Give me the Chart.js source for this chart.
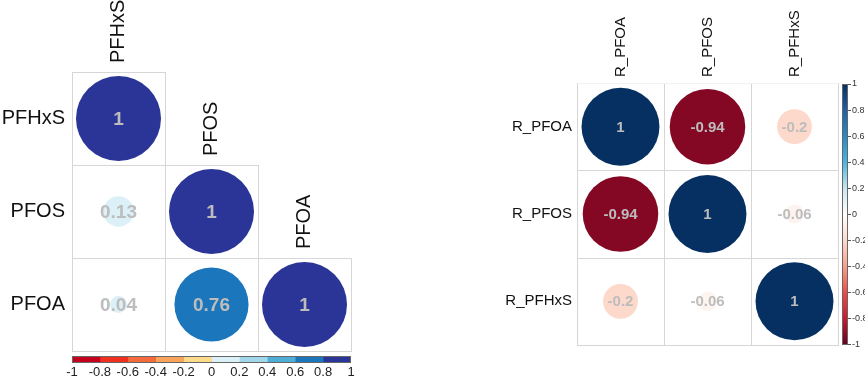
<!DOCTYPE html>
<html>
<head>
<meta charset="utf-8">
<script src="https://cdn.jsdelivr.net/npm/chart.js@4.4.0/dist/chart.umd.min.js"></script>
<style>
  html, body { margin: 0; padding: 0; background: #fff; overflow: hidden; }
  #wrap { position: relative; width: 865px; height: 378px; overflow: hidden; }
  canvas { position: absolute; }
</style>
</head>
<body>
<div id="wrap">
  <canvas id="leftMatrix" width="440" height="378" style="left:0;top:0"></canvas>
  <canvas id="leftBar" width="303" height="27" style="left:60px;top:354px"></canvas>
  <canvas id="rightMatrix" width="425" height="378" style="left:440px;top:0"></canvas>
  <canvas id="rightBar" width="29" height="275" style="left:836px;top:76px"></canvas>
</div>
<script>
// left panel: lower triangle
const leftNames = ['PFHxS', 'PFOS', 'PFOA'];
const leftRows = [
    [1],
    [0.13, 1],
    [0.04, 0.76, 1]
];

// right panel: full matrix
const rightNames = ['R_PFOA', 'R_PFOS', 'R_PFHxS'];
const rightRows = [
    [1, -0.94, -0.2],
    [-0.94, 1, -0.06],
    [-0.2, -0.06, 1]
];

// colour bar ticks and colours
const barTicks = [-1, -0.8, -0.6, -0.4, -0.2, 0, 0.2, 0.4, 0.6, 0.8, 1];
const stepColors = ['#C5001D', '#F0301E', '#F46A3C', '#F9A45A', '#FCDC8A',
                    '#DCF1F7', '#A0D8EA', '#4EAED6', '#1B76BB', '#2B3597'];
const rampColors = ['#67001F', '#C81A30', '#EC4D47', '#F7A08A', '#FCD9CA',
                    '#FFFFFF', '#C6E6F2', '#48B4E0', '#2A8AC6', '#1F5FA6', '#053061'];

const FONT = "'Liberation Sans', Arial, sans-serif";

function hexToRgb(h) {
    return [parseInt(h.slice(1, 3), 16), parseInt(h.slice(3, 5), 16), parseInt(h.slice(5, 7), 16)];
}

function rampColor(v) {
    let i = Math.min(9, Math.floor((v + 1) / 0.2 + 1e-9));
    const t = (v - barTicks[i]) / 0.2;
    const a = hexToRgb(rampColors[i]);
    const b = hexToRgb(rampColors[i + 1]);
    const c = a.map((x, k) => Math.round(x + (b[k] - x) * t));
    return 'rgb(' + c.join(',') + ')';
}

function stepColor(v) {
    const i = Math.min(9, Math.floor((v + 1) / 0.2 + 1e-9));
    return stepColors[i];
}

function toPoints(rows) {
    const pts = [];
    rows.forEach((row, i) => {
        row.forEach((v, j) => {
            pts.push({ x: j + 1, y: i + 1, v: v });
        });
    });
    return pts;
}

function cellSize(chart) {
    const xs = chart.scales.x;
    return Math.abs(xs.getPixelForValue(1.5) - xs.getPixelForValue(0.5));
}

// grid, labels and numbers drawn around the circles
function makeDecor(cfg) {
    return {
        id: 'decor',
        beforeDatasetsDraw(chart) {
            const ctx = chart.ctx;
            const xs = chart.scales.x, ys = chart.scales.y;
            ctx.save();
            ctx.strokeStyle = '#D6D6D6';
            ctx.lineWidth = 1;
            cfg.points.forEach(p => {
                const x0 = Math.round(xs.getPixelForValue(p.x - 0.5)) + 0.5;
                const x1 = Math.round(xs.getPixelForValue(p.x + 0.5)) + 0.5;
                const y0 = Math.round(ys.getPixelForValue(p.y - 0.5)) + 0.5;
                const y1 = Math.round(ys.getPixelForValue(p.y + 0.5)) + 0.5;
                ctx.strokeRect(x0, y0, x1 - x0, y1 - y0);
            });
            if (cfg.fadeTop) {
                // top edge of the full grid is barely visible in the original
                const y0 = Math.round(ys.getPixelForValue(0.5)) + 0.5;
                ctx.strokeStyle = '#F3F3F3';
                ctx.beginPath();
                ctx.moveTo(Math.round(xs.getPixelForValue(0.5)) + 1, y0);
                ctx.lineTo(Math.round(xs.getPixelForValue(3.5)), y0);
                ctx.stroke();
            }
            ctx.restore();
        },
        afterDatasetsDraw(chart) {
            const ctx = chart.ctx;
            const xs = chart.scales.x, ys = chart.scales.y;
            ctx.save();
            // numbers
            ctx.fillStyle = '#BDBDBD';
            ctx.font = 'bold ' + cfg.numSize + 'px ' + FONT;
            ctx.textAlign = 'center';
            ctx.textBaseline = 'middle';
            cfg.points.forEach(p => {
                ctx.fillText(String(p.v), xs.getPixelForValue(p.x), ys.getPixelForValue(p.y) + 1);
            });
            // row labels
            ctx.fillStyle = '#111';
            ctx.font = cfg.labelSize + 'px ' + FONT;
            ctx.textAlign = 'right';
            cfg.names.forEach((n, i) => {
                ctx.fillText(n, xs.getPixelForValue(0.5) - cfg.rowGap, ys.getPixelForValue(i + 1));
            });
            // column labels, rotated
            ctx.textAlign = 'left';
            cfg.names.forEach((n, j) => {
                const top = cfg.triangle ? ys.getPixelForValue(j + 0.5) : ys.getPixelForValue(0.5);
                ctx.save();
                ctx.translate(xs.getPixelForValue(j + 1), top - cfg.colGap);
                ctx.rotate(-Math.PI / 2);
                ctx.fillText(n, 0, 0);
                ctx.restore();
            });
            ctx.restore();
        }
    };
}

function matrixChart(id, points, radiusFactor, colorFn, padding, decor) {
    return new Chart(document.getElementById(id), {
        type: 'scatter',
        data: {
            datasets: [{
                data: points,
                pointRadius: c => c.raw ? cellSize(c.chart) * radiusFactor * Math.sqrt(Math.abs(c.raw.v)) : 0,
                pointHoverRadius: c => c.raw ? cellSize(c.chart) * radiusFactor * Math.sqrt(Math.abs(c.raw.v)) : 0,
                backgroundColor: c => c.raw ? colorFn(c.raw.v) : '#fff',
                borderWidth: 0,
                clip: false
            }]
        },
        options: {
            responsive: false,
            animation: false,
            events: [],
            layout: { padding: padding },
            scales: {
                x: { type: 'linear', min: 0.5, max: 3.5, display: false },
                y: { type: 'linear', min: 0.5, max: 3.5, reverse: true, display: false }
            },
            plugins: { legend: { display: false }, tooltip: { enabled: false } }
        },
        plugins: [decor]
    });
}

const leftPoints = toPoints(leftRows);
const rightPoints = toPoints(rightRows);

matrixChart('leftMatrix', leftPoints, 0.457, stepColor,
    { left: 72, top: 72, right: 89, bottom: 27 },
    makeDecor({ points: leftPoints, names: leftNames, triangle: true, numSize: 19, labelSize: 20, rowGap: 7, colGap: 9 }));

matrixChart('rightMatrix', rightPoints, 0.448, rampColor,
    { left: 137, top: 83, right: 27, bottom: 33 },
    makeDecor({ points: rightPoints, names: rightNames, triangle: false, fadeTop: true, numSize: 15, labelSize: 15, rowGap: 5, colGap: 6 }));

const frame = {
    id: 'frame',
    afterDatasetsDraw(chart) {
        const a = chart.chartArea;
        const ctx = chart.ctx;
        ctx.save();
        ctx.strokeStyle = '#666';
        ctx.lineWidth = 1;
        ctx.strokeRect(Math.round(a.left) + 0.5, Math.round(a.top) + 0.5,
            Math.round(a.right - a.left) - 1, Math.round(a.bottom - a.top) - 1);
        ctx.restore();
    }
};

const fmtTick = v => String(Number(v.toFixed(1)));

// left discrete colour bar
new Chart(document.getElementById('leftBar'), {
    type: 'bar',
    data: {
        labels: [''],
        datasets: stepColors.map((c, i) => ({
            data: [[barTicks[i], barTicks[i + 1]]],
            backgroundColor: c,
            borderWidth: 0,
            barPercentage: 1,
            categoryPercentage: 1,
            grouped: false
        }))
    },
    options: {
        indexAxis: 'y',
        responsive: false,
        animation: false,
        events: [],
        layout: { padding: { left: 12, right: 12, top: 2, bottom: 0 } },
        scales: {
            x: {
                type: 'linear', min: -1, max: 1,
                afterFit: s => { s.height = 18; },
                afterBuildTicks: s => { s.ticks = barTicks.map(v => ({ value: v })); },
                grid: { display: false, drawTicks: false },
                border: { display: false },
                ticks: { font: { size: 13, family: FONT }, color: '#222', padding: 2, maxRotation: 0, autoSkip: false, callback: fmtTick }
            },
            y: { display: false }
        },
        plugins: { legend: { display: false }, tooltip: { enabled: false } }
    },
    plugins: [frame]
});

// right continuous colour bar
new Chart(document.getElementById('rightBar'), {
    type: 'bar',
    data: {
        labels: [''],
        datasets: [{
            data: [[-1, 1]],
            backgroundColor: c => {
                const chart = c.chart;
                const a = chart.chartArea;
                if (!a) return '#fff';
                const ys = chart.scales.y;
                const g = chart.ctx.createLinearGradient(0, ys.getPixelForValue(-1), 0, ys.getPixelForValue(1));
                rampColors.forEach((col, i) => g.addColorStop(i / (rampColors.length - 1), col));
                return g;
            },
            borderWidth: 0,
            barPercentage: 1,
            categoryPercentage: 1
        }]
    },
    options: {
        responsive: false,
        animation: false,
        events: [],
        layout: { padding: { left: 6, right: 0, top: 8, bottom: 6 } },
        scales: {
            x: { display: false },
            y: {
                type: 'linear', min: -1, max: 1, position: 'right',
                afterFit: s => { s.width = 17; },
                afterBuildTicks: s => { s.ticks = barTicks.map(v => ({ value: v })); },
                grid: { drawOnChartArea: false, tickLength: 3, color: '#555' },
                border: { display: false },
                ticks: { font: { size: 9, family: FONT }, color: '#333', padding: 1, autoSkip: false, callback: fmtTick }
            }
        },
        plugins: { legend: { display: false }, tooltip: { enabled: false } }
    },
    plugins: [frame]
});
</script>
</body>
</html>
